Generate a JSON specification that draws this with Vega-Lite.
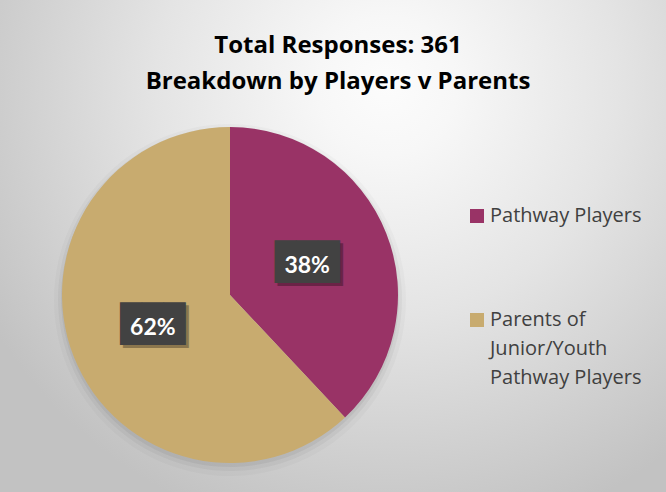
{
  "$schema": "https://vega.github.io/schema/vega-lite/v6.json",
  "width": 872,
  "height": 590,
  "autosize": {"type": "none"},
  "padding": {"left": -206, "top": 0, "right": 0, "bottom": -98},
  "background": "#ffffff",
  "view": {
    "stroke": null,
    "fill": {
      "gradient": "radial",
      "x1": 0.68, "y1": 0.26, "r1": 0,
      "x2": 0.68, "y2": 0.26, "r2": 0.53,
      "stops": [
        {"offset": 0, "color": "#fcfcfc"},
        {"offset": 0.15, "color": "#f7f7f7"},
        {"offset": 0.5, "color": "#e4e4e4"},
        {"offset": 1, "color": "#c2c2c2"}
      ]
    }
  },
  "title": {
    "text": ["Total Responses: 361", "Breakdown by Players v Parents"],
    "anchor": "middle",
    "frame": "group",
    "dx": 108,
    "offset": -94,
    "font": "Open Sans",
    "fontSize": 24,
    "fontWeight": "bold",
    "color": "#000000",
    "lineHeight": 36
  },
  "data": {
    "values": [
      {"group": "Pathway Players", "share": 0.38, "order": 1},
      {"group": "Parents of Junior/Youth Pathway Players", "share": 0.62, "order": 2}
    ]
  },
  "encoding": {
    "theta": {"field": "share", "type": "quantitative", "stack": true},
    "order": {"field": "order", "type": "quantitative"}
  },
  "layer": [
    {
      "mark": {"type": "arc", "outerRadius": 176, "yOffset": 5, "color": "#000000", "opacity": 0.025}
    },
    {
      "mark": {"type": "arc", "outerRadius": 172, "yOffset": 4, "color": "#000000", "opacity": 0.04}
    },
    {
      "mark": {"type": "arc", "outerRadius": 169, "yOffset": 3, "color": "#000000", "opacity": 0.05}
    },
    {
      "mark": {"type": "arc", "outerRadius": 168},
      "encoding": {
        "color": {
          "field": "group",
          "type": "nominal",
          "scale": {
            "domain": ["Pathway Players", "Parents of Junior/Youth Pathway Players"],
            "range": ["#993366", "#c8ab6f"]
          },
          "legend": {
            "orient": "none",
            "legendX": 673,
            "legendY": 206,
            "title": null,
            "padding": 0,
            "symbolType": "square",
            "symbolSize": 196,
            "symbolStrokeWidth": 0,
            "symbolOpacity": 1,
            "labelFont": "Open Sans",
            "labelFontSize": 20,
            "labelColor": "#404040",
            "labelOffset": 3,
            "labelLimit": 0,
            "labelBaseline": "alphabetic",
            "rowPadding": 84,
            "labelExpr": "datum.label == 'Parents of Junior/Youth Pathway Players' ? ['Parents of', 'Junior/Youth', 'Pathway Players'] : datum.label",
            "encode": {"labels": {"update": {"dy": {"value": 6}, "lineHeight": {"value": 29}}}}
          }
        }
      }
    },
    {
      "mark": {"type": "text", "radius": 83, "font": "DejaVu Sans Mono", "fontSize": 36, "color": "#000000", "opacity": 0.3, "dx": 3, "dy": 2, "align": "center", "baseline": "middle"},
      "encoding": {"text": {"value": "███"}}
    },
    {
      "mark": {"type": "text", "radius": 83, "font": "DejaVu Sans Mono", "fontSize": 36, "color": "#424242", "dy": -1, "align": "center", "baseline": "middle"},
      "encoding": {"text": {"value": "███"}}
    },
    {
      "mark": {"type": "text", "radius": 83, "font": "Lato", "fontSize": 23, "fontWeight": "bold", "color": "#ffffff", "dy": 2, "align": "center", "baseline": "middle"},
      "encoding": {"text": {"field": "share", "type": "quantitative", "format": ".0%"}}
    }
  ]
}
